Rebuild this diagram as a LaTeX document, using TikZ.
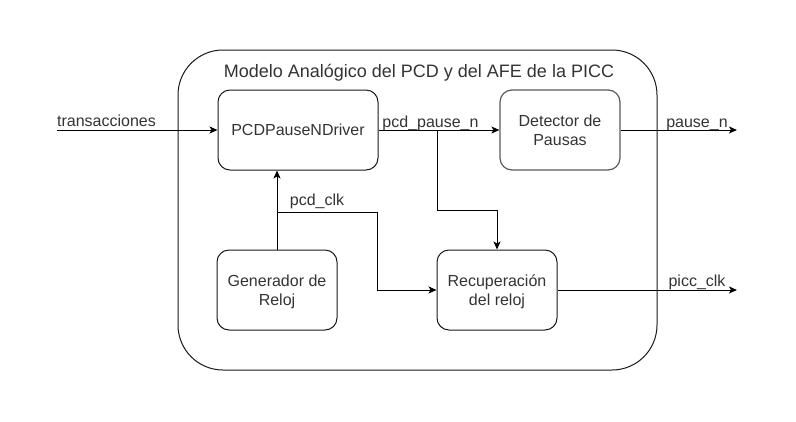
\documentclass[tikz,border=0pt]{standalone}
\usepackage{fontspec}
\setmainfont{Liberation Sans}
\usetikzlibrary{arrows.meta}
\begin{document}
\begin{tikzpicture}[x=1pt,y=-1pt,
  box/.style={draw=black!90, line width=1pt, rounded corners=12pt, align=center, text=black!80, font=\fontsize{16}{19}\selectfont, inner sep=0pt},
  lbl/.style={text=black!80, font=\fontsize{16}{19}\selectfont, inner sep=0pt, anchor=base},
  wire/.style={line width=1pt, draw=black},
  arr/.style={wire, -{Stealth[length=8pt,width=7pt,inset=2pt]}}]
\useasboundingbox (0,0) rectangle (796,421);
\node[draw=black!90, line width=1pt, rounded corners=45pt, minimum width=479pt, minimum height=320pt, inner sep=0pt] (outer) at (417.5,210) {};
\node[lbl, font=\fontsize{18}{21}\selectfont] (title) at (419,77) {Modelo Analógico del PCD y del AFE de la PICC};
\node[box, minimum width=160pt, minimum height=80pt] (pcd) at (298,130) {PCDPauseNDriver};
\node[box, draw=black!65, line width=1.2pt, minimum width=120pt, minimum height=80pt] (det) at (560,130) {Detector de\\Pausas};
\node[box, text depth=0pt, minimum width=120pt, minimum height=80pt] (gen) at (277,290) {Generador de\\Reloj};
\node[box, text depth=0pt, minimum width=120pt, minimum height=80pt] (rec) at (497,290) {Recuperación\\del reloj};
\coordinate (tin) at (57,130);
\draw[arr] (tin) -- (pcd.west);
\node[lbl] (ltin) at (106.5,126) {transacciones};
\draw[arr] (pcd.east) -- (det.west);
\node[lbl] (lpp) at (430.5,127) {pcd\_pause\_n};
\coordinate (b1) at (437,130);
\coordinate (b1t) at (437,210);
\draw[arr] (b1) -- (b1t) -| (rec.north);
\draw[arr] (gen.north) -- (gen.north |- pcd.south);
\coordinate (c1) at (277,212);
\coordinate (c2) at (377,212);
\draw[arr] (c1) -- (c2) |- (rec.west);
\node[lbl] (lclk) at (317,205) {pcd\_clk};
\coordinate (pout) at (737,130);
\draw[arr] (det.east) -- (pout);
\node[lbl] (lpn) at (697,127) {pause\_n};
\coordinate (cout) at (737,290);
\draw[arr] (rec.east) -- (cout);
\node[lbl] (lpc) at (697,286) {picc\_clk};
\end{tikzpicture}
\end{document}
